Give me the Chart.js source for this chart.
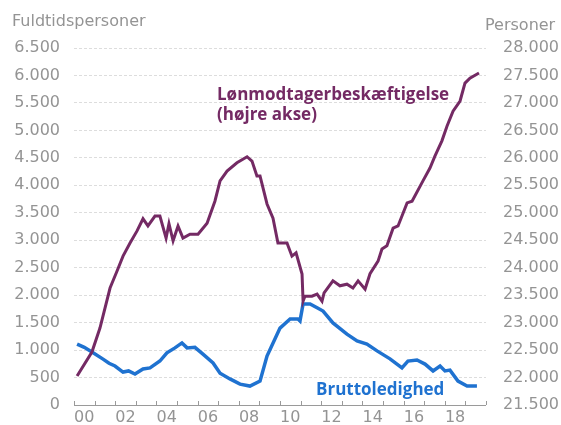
<!DOCTYPE html>
<html>
<head>
<meta charset="utf-8">
<script src="https://cdn.jsdelivr.net/npm/chart.js@4"></script>
<style>
  html, body { margin: 0; padding: 0; background: #fff; }
  #wrap { width: 561px; height: 425px; position: relative; }
</style>
</head>
<body>
<div id="wrap"><canvas id="chart"></canvas></div>
<script>
// x-aksens labels (midt i hvert andet år)
const yearLabels = ['00','02','04','06','08','10','12','14','16','18'];

// Bruttoledighed (venstre akse, fuldtidspersoner)
const ledigYears = [2000.15,2000.5,2000.87,2001.41,2001.7,2001.99,2002.38,2002.65,2002.96,2003.35,2003.69,2004.17,2004.51,2004.9,
  2005.24,2005.49,2005.87,2006.26,2006.75,2007.09,2007.57,2008.06,2008.54,2009.03,2009.37,2010.0,2010.49,2010.87,2010.97,
  2011.12,2011.46,2011.8,2012.09,2012.57,2013.25,2013.74,2014.22,2014.71,2015.34,2015.92,2016.21,2016.65,2017.04,2017.43,
  2017.77,2018.01,2018.25,2018.64,2019.08,2019.56];
const ledigValues = [1110,1050,965,835,760,710,600,620,565,655,675,800,950,1040,
  1130,1040,1050,925,765,580,475,380,345,435,890,1400,1565,1565,1530,
  1840,1840,1770,1710,1495,1290,1165,1110,985,840,675,800,820,745,620,
  710,620,635,435,345,345];

// Lønmodtagerbeskæftigelse (højre akse, personer)
const beskYears = [2000.15,2000.87,2001.26,2001.75,2002.09,2002.38,2002.72,2003.06,2003.35,2003.59,2003.93,2004.17,2004.47,
  2004.61,2004.81,2005.05,2005.29,2005.63,2006.02,2006.46,2006.84,2007.09,2007.43,2007.91,2008.4,2008.64,2008.88,2009.03,
  2009.37,2009.66,2009.9,2010.34,2010.58,2010.78,2011.07,2011.12,2011.21,2011.55,2011.8,2012.04,2012.14,2012.57,2012.91,
  2013.25,2013.54,2013.79,2014.13,2014.37,2014.76,2014.95,2015.19,2015.49,2015.73,2016.17,2016.41,2016.94,2017.28,2017.52,
  2017.86,2018.11,2018.4,2018.74,2018.98,2019.22,2019.66];
const beskValues = [22028,22465,22902,23630,23940,24210,24450,24670,24890,24760,24940,24940,24540,
  24800,24490,24760,24540,24610,24610,24810,25210,25580,25760,25910,26020,25940,25670,25670,
  25160,24900,24450,24450,24210,24270,23885,23390,23480,23480,23520,23390,23540,23760,23670,
  23700,23630,23760,23610,23890,24120,24340,24400,24720,24760,25180,25210,25580,25815,26030,
  26310,26580,26850,27035,27360,27450,27545];

const PURPLE = '#742a64';
const BLUE = '#1f72d0';
const GREY = '#949494';

const fmt = v => String(v).replace(/\B(?=(\d{3})+(?!\d))/g, '.');

// x-aksens linje med små streger opad + tekster
const extras = {
  id: 'extras',
  afterDraw(chart) {
    const { ctx, scales: { x } } = chart;
    const y0 = chart.chartArea.bottom;
    ctx.save();
    ctx.strokeStyle = '#9a9a9a';
    ctx.lineWidth = 1;
    ctx.beginPath();
    ctx.moveTo(x.getPixelForValue(2000), y0 + 0.5);
    ctx.lineTo(x.getPixelForValue(2020), y0 + 0.5);
    ctx.stroke();
    for (let yr = 2000; yr <= 2020; yr++) {
      const px = Math.round(x.getPixelForValue(yr)) + 0.5;
      ctx.beginPath();
      ctx.moveTo(px, y0);
      ctx.lineTo(px, y0 - 4);
      ctx.stroke();
    }
    ctx.fillStyle = GREY;
    ctx.font = '16px "DejaVu Sans"';
    ctx.textBaseline = 'middle';
    ctx.textAlign = 'left';
    ctx.fillText('Fuldtidspersoner', 12, 22);
    ctx.fillText('Personer', 485, 26);

    ctx.font = 'bold 17px "Open Sans"';
    ctx.textBaseline = 'alphabetic';
    ctx.fillStyle = PURPLE;
    ctx.fillText('Lønmodtagerbeskæftigelse', 217, 100);
    ctx.fillText('(højre akse)', 217, 120);
    ctx.fillStyle = BLUE;
    ctx.fillText('Bruttoledighed', 316, 395);
    ctx.restore();
  }
};

new Chart(document.getElementById('chart'), {
  type: 'line',
  data: {
    datasets: [
      {
        label: 'Lønmodtagerbeskæftigelse',
        data: beskYears.map((t, i) => ({ x: t, y: beskValues[i] })),
        yAxisID: 'y2',
        borderColor: PURPLE,
        borderWidth: 3,
        pointRadius: 0,
        tension: 0
      },
      {
        label: 'Bruttoledighed',
        data: ledigYears.map((t, i) => ({ x: t, y: ledigValues[i] })),
        yAxisID: 'y',
        borderColor: BLUE,
        borderWidth: 3.5,
        pointRadius: 0,
        tension: 0
      }
    ]
  },
  options: {
    responsive: true,
    maintainAspectRatio: false,
    animation: false,
    layout: { padding: { top: 48, left: 0, right: 0, bottom: 0 } },
    plugins: { legend: { display: false }, tooltip: { enabled: false } },
    scales: {
      x: {
        type: 'linear',
        min: 2000,
        max: 2020,
        afterBuildTicks: s => { s.ticks = yearLabels.map((_, i) => ({ value: 2000.5 + 2 * i })); },
        afterFit: s => { s.height = 20; },
        grid: { display: false, drawTicks: false, tickLength: 0 },
        border: { display: false },
        ticks: {
          padding: 3,
          color: GREY,
          font: { family: 'DejaVu Sans', size: 16 },
          maxRotation: 0,
          autoSkip: false,
          callback: v => yearLabels[Math.round((v - 2000.5) / 2)]
        }
      },
      y: {
        position: 'left',
        min: 0,
        max: 6500,
        afterFit: s => { s.width = 74; },
        grid: { color: '#dddddd', drawTicks: true, tickLength: 14, tickColor: 'rgba(0,0,0,0)', lineWidth: 1 },
        border: { display: false, dash: [3, 2] },
        ticks: {
          stepSize: 500,
          padding: 0,
          color: GREY,
          font: { family: 'DejaVu Sans', size: 16 },
          callback: v => fmt(v)
        }
      },
      y2: {
        position: 'right',
        min: 21500,
        max: 28000,
        afterFit: s => { s.width = 75; },
        grid: { drawOnChartArea: false, drawTicks: true, tickLength: 17, tickColor: 'rgba(0,0,0,0)' },
        border: { display: false },
        ticks: {
          stepSize: 500,
          padding: 0,
          color: GREY,
          font: { family: 'DejaVu Sans', size: 16 },
          callback: v => fmt(v)
        }
      }
    }
  },
  plugins: [extras]
});
</script>
</body>
</html>
